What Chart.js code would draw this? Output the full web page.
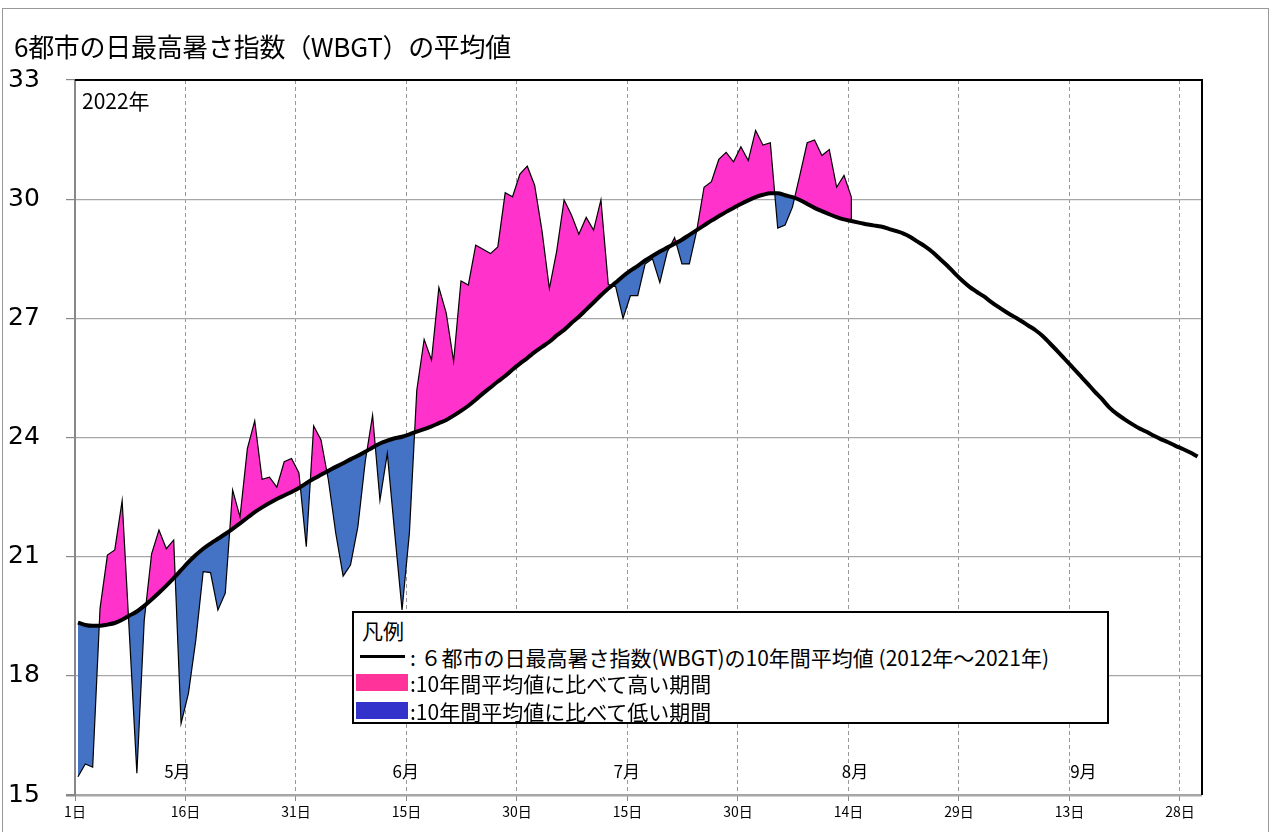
<!DOCTYPE html>
<html>
<head>
<meta charset="utf-8">
<title>6都市の日最高暑さ指数（WBGT）の平均値</title>
<script src="https://cdn.jsdelivr.net/npm/chart.js@4.4.0/dist/chart.umd.min.js"></script>
<style>
    body { margin: 0; background: #fff; font-family: "Noto Sans CJK JP", sans-serif; }
    #frame { position: absolute; left: 2px; top: 8px; width: 1267px; height: 840px; border: 1px solid #999; box-sizing: border-box; }
    #title { position: absolute; left: 14px; top: 28px; font-size: 26px; line-height: 36px; color: #000; letter-spacing: -0.3px; }
    #year { position: absolute; left: 82px; top: 86px; font-size: 21px; line-height: 28px; color: #000; }
    #chart { position: absolute; left: 0; top: 0; }
    #legend { position: absolute; left: 352px; top: 611px; width: 757px; height: 113px; border: 2px solid #000; background: #fff; box-sizing: border-box; }
    #legend div { position: absolute; font-size: 21px; line-height: 24px; white-space: nowrap; color: #000; }
    #legend .sw { position: absolute; }
</style>
</head>
<body>
<div id="frame"></div>
<canvas id="chart" width="1273" height="832"></canvas>
<div id="title">6都市の日最高暑さ指数（WBGT）の平均値</div>
<div id="year">2022年</div>
<div id="legend">
    <div style="left:8px; top:5px;">凡例</div>
    <span class="sw" style="left:6px; top:42px; width:45px; height:3px; background:#000;"></span>
    <div style="left:56px; top:32px;">: ６都市の日最高暑さ指数(WBGT)の10年間平均値 (2012年～2021年)</div>
    <span class="sw" style="left:2px; top:61px; width:52px; height:17px; background:#FF3399;"></span>
    <div style="left:56px; top:58px;">:10年間平均値に比べて高い期間</div>
    <span class="sw" style="left:2px; top:89px; width:52px; height:17px; background:#3333CC;"></span>
    <div style="left:56px; top:86px;">:10年間平均値に比べて低い期間</div>
</div>

<script type="text/javascript">
// 10年間平均値 (5/1 ～ 9/30, 153日)
var avgValues = [19.34,19.28,19.26,19.26,19.29,19.33,19.41,19.52,19.62,19.76,
    19.92,20.09,20.27,20.46,20.66,20.86,21.04,21.2,21.33,21.45,
    21.57,21.7,21.84,21.98,22.12,22.24,22.35,22.45,22.54,22.63,
    22.73,22.85,22.96,23.06,23.16,23.26,23.35,23.45,23.54,23.64,
    23.75,23.85,23.92,23.98,24.02,24.08,24.15,24.21,24.28,24.36,
    24.44,24.55,24.67,24.8,24.95,25.11,25.26,25.41,25.55,25.71,
    25.86,26.0,26.15,26.28,26.41,26.57,26.71,26.88,27.04,27.22,
    27.4,27.58,27.75,27.9,28.06,28.2,28.32,28.46,28.57,28.68,
    28.78,28.88,28.98,29.1,29.22,29.34,29.46,29.57,29.68,29.78,
    29.88,29.97,30.05,30.11,30.15,30.15,30.1,30.05,29.98,29.88,
    29.78,29.7,29.62,29.55,29.49,29.45,29.41,29.37,29.34,29.31,
    29.26,29.2,29.14,29.05,28.93,28.81,28.67,28.5,28.33,28.14,
    27.96,27.8,27.67,27.55,27.41,27.28,27.16,27.05,26.94,26.82,
    26.7,26.55,26.36,26.17,25.97,25.77,25.57,25.37,25.16,24.97,
    24.76,24.6,24.47,24.35,24.24,24.15,24.05,23.96,23.88,23.79,
    23.71,23.62,23.52];

// 2022年 (5/1 ～ 8/14)
var values2022 = [15.46,15.78,15.7,19.7,21.04,21.17,22.41,19.0,15.55,19.4,
    21.07,21.67,21.2,21.42,16.8,17.56,18.9,20.62,20.6,19.66,
    20.08,22.68,22.0,23.72,24.42,22.95,23.0,22.75,23.39,23.47,
    23.11,21.25,24.29,23.94,22.93,21.59,20.51,20.79,21.75,23.39,
    24.56,22.42,23.6,21.6,19.66,21.6,25.19,26.47,25.95,27.78,
    27.13,25.92,27.94,27.84,28.84,28.74,28.63,28.8,30.16,30.06,
    30.63,30.83,30.35,29.2,27.75,28.7,29.98,29.6,29.12,29.54,
    29.22,29.98,27.85,27.8,27.0,27.57,27.57,28.37,28.5,27.9,
    28.67,29.03,28.37,28.37,29.2,30.3,30.44,31.0,31.18,30.94,
    31.32,30.97,31.73,31.36,31.42,29.27,29.35,29.8,30.6,31.42,
    31.49,31.1,31.25,30.3,30.6,30.05];

var xTickLabels = ['1日','16日','31日','15日','30日','15日','30日','14日','29日','13日','28日'];
var months = ['5月','6月','7月','8月','9月'];
var monthDays = [31, 30, 31, 31, 30];

var toPoints = function(arr) {
    return arr.map(function(v, i) { return {x: i, y: v}; });
};

var decor = {
    id: 'decor',
    afterDatasetsDraw: function(chart) {
        var ctx = chart.ctx, a = chart.chartArea, x = chart.scales.x, y = chart.scales.y;
        ctx.save();
        // 2022年の終端の縦線
        var last = values2022.length - 1;
        ctx.strokeStyle = '#000';
        ctx.lineWidth = 1.2;
        ctx.beginPath();
        ctx.moveTo(x.getPixelForValue(last), y.getPixelForValue(values2022[last]));
        ctx.lineTo(x.getPixelForValue(last), y.getPixelForValue(avgValues[last]));
        ctx.stroke();
        // 月ラベル
        ctx.font = '17px "Noto Sans CJK JP"';
        ctx.fillStyle = '#000';
        ctx.textAlign = 'center';
        ctx.textBaseline = 'middle';
        var start = 0;
        for (var i = 0; i < months.length; i++) {
            ctx.fillText(months[i], x.getPixelForValue(start + 13.5), a.bottom - 23);
            start += monthDays[i];
        }
        ctx.strokeStyle = '#000';
        ctx.lineWidth = 2;
        ctx.beginPath();
        ctx.moveTo(a.left, a.top);
        ctx.lineTo(a.right, a.top);
        ctx.lineTo(a.right, a.bottom);
        ctx.stroke();
        ctx.restore();
    }
};

var chart = new Chart(document.getElementById('chart'), {
    type: 'line',
    data: {
        datasets: [{
            label: '10年間平均値',
            data: toPoints(avgValues),
            borderColor: '#000',
            borderWidth: 4,
            pointRadius: 0,
            tension: 0.4,
            cubicInterpolationMode: 'monotone',
            fill: false,
            order: 0
        }, {
            label: '2022年',
            data: toPoints(values2022),
            borderColor: '#000',
            borderWidth: 1.2,
            pointRadius: 0,
            tension: 0,
            fill: { target: 0, above: '#FF33CC', below: '#4472C4' },
            order: 1
        }]
    },
    options: {
        responsive: false,
        animation: false,
        layout: { padding: { left: 8, top: 80, right: 71, bottom: 0 } },
        plugins: {
            legend: { display: false },
            tooltip: { enabled: false }
        },
        scales: {
            x: {
                type: 'linear',
                min: -0.4,
                max: 152.6,
                afterBuildTicks: function(s) {
                    s.ticks = xTickLabels.map(function(t, i) { return {value: i * 15 - 0.4}; });
                },
                afterFit: function(s) { s.height = 37; },
                ticks: {
                    callback: function(v, i) { return xTickLabels[i]; },
                    color: '#000',
                    font: { family: 'Noto Sans CJK JP', size: 14 },
                    maxRotation: 0,
                    autoSkip: false,
                    padding: 2
                },
                grid: { color: '#999', lineWidth: 1, tickLength: 6, tickColor: '#888', tickBorderDash: [] },
                border: { display: false, dash: [4, 3] }
            },
            y: {
                min: 15,
                max: 33,
                afterFit: function(s) { s.width = 67; },
                ticks: {
                    stepSize: 3,
                    color: '#000',
                    font: { family: 'DejaVu Sans', size: 25 },
                    crossAlign: 'far',
                    padding: 6
                },
                grid: {
                    color: function(c) { return c.tick && c.tick.value === 33 ? 'rgba(0,0,0,0)' : '#a6a6a6'; },
                    lineWidth: function(c) { return c.tick && c.tick.value === 15 ? 2.5 : 1.2; },
                    tickColor: '#888',
                    tickLength: 9
                },
                border: { color: '#888', width: 2 }
            }
        }
    },
    plugins: [decor]
});
</script>
</body>
</html>
